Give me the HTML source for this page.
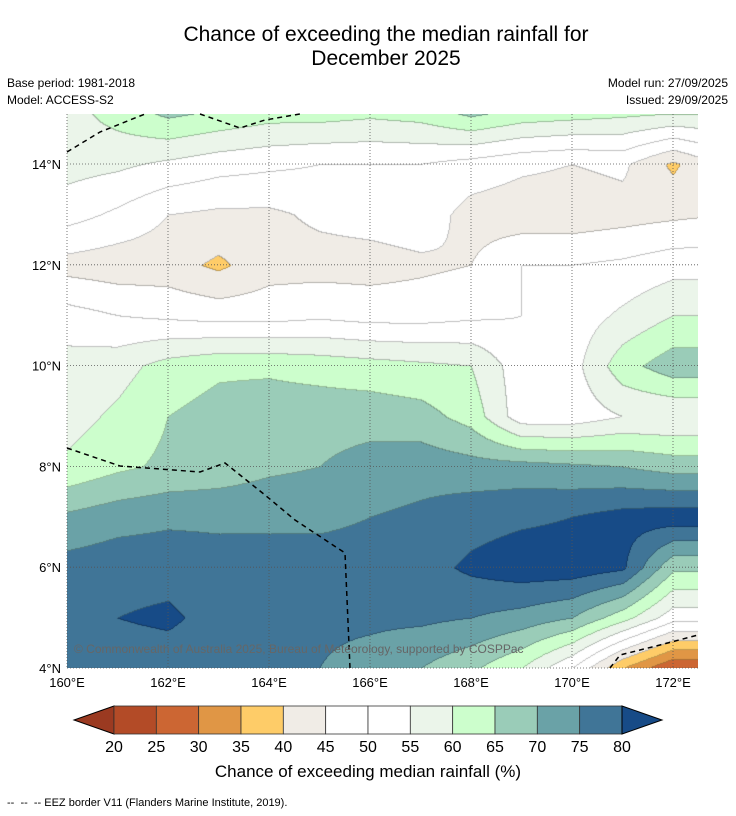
<!DOCTYPE html>
<html><head><meta charset="utf-8">
<style>
body{margin:0;background:#fff;width:736px;height:816px;position:relative;overflow:hidden;font-family:"Liberation Sans",sans-serif;color:#000}
.t{position:absolute;white-space:nowrap}
</style></head><body>
<div class="t" style="left:0;width:772px;text-align:center;top:23px;font-size:21px;line-height:24px">Chance of exceeding the median rainfall for<br>December 2025</div>
<div class="t" style="left:7px;top:76px;font-size:12px">Base period: 1981-2018</div>
<div class="t" style="left:7px;top:93px;font-size:12px">Model: ACCESS-S2</div>
<div class="t" style="right:8px;top:76px;font-size:12px">Model run: 27/09/2025</div>
<div class="t" style="right:8px;top:93px;font-size:12px">Issued: 29/09/2025</div>
<canvas id="map" width="631" height="554" style="position:absolute;left:67px;top:114px"></canvas>
<svg id="ov" width="736" height="816" style="position:absolute;left:0;top:0"></svg>
<div class="t" style="left:74px;top:642px;font-size:12px;color:#666">© Commonwealth of Australia 2025, Bureau of Meteorology, supported by COSPPac</div>
<div class="t" style="left:0;width:736px;text-align:center;top:762px;font-size:17px">Chance of exceeding median rainfall (%)</div>
<div class="t" style="left:7px;top:797px;font-size:11px">-- &nbsp;-- &nbsp;-- EEZ border V11 (Flanders Marine Institute, 2019).</div>
<script>
const lons=[160,161,162,163,164,165,166,167,168,169,170,171,172,173];
const lats=[15,14,13,12,11,10,9,8,7,6,5,4];
const grid=[
[58,62,66,64,62,62,61,62,66,63,62,61,60,60],
[57,56,54,52,51,50,50,50,48,46,45,46,39,46],
[52,49,45,44,44,46,47,48,43,42,42,43,44,45],
[43,42,42,39,43,43,43,44,45,50,50,51,53,53],
[52,50,49,48,48,49,48,48,49,50,52,56,60,60],
[57,58,62,64,64,63,62,61,60,52,53,63,68,68],
[58,61,65,67,68,68,68,67,63,52,52,55,55,55],
[61,64,66,67,69,70,72,73,72,72,71,70,68,68],
[71,73,74,74,74,74,75,76,78,79,80,82,83,83],
[77,78,78,77,77,77,77,78,81,83,83,81,66,66],
[77,80,81,78,77,76,76,76,75,73,70,62,52,52],
[76,77,77,76,76,75,73,70,66,60,50,35,25,25]];
const levels=[20,25,30,35,40,45,50,55,60,65,70,75,80];
const colors=["#9b3a21","#b34b27","#cc6633","#e09645","#fecc68","#f0ece6","#ffffff","#ffffff","#ebf5ea","#ccfecc","#9accb8","#6aa2a7","#407597","#174b87"];
const xTicks=[160,162,164,166,168,170,172];
const yTicks=[4,6,8,10,12,14];
const X0=67,Y0=668,PX=50.5,PY=50.4;
const lx=l=>X0+(l-160)*PX, ly=l=>Y0-(l-4)*PY;
function val(lon,lat){
  let i=(15-lat), j=(lon-160);
  i=Math.max(0,Math.min(10.999,i)); j=Math.max(0,Math.min(12.999,j));
  const i0=Math.floor(i),j0=Math.floor(j),fi=i-i0,fj=j-j0;
  return grid[i0][j0]*(1-fi)*(1-fj)+grid[i0][j0+1]*(1-fi)*fj+grid[i0+1][j0]*fi*(1-fj)+grid[i0+1][j0+1]*fi*fj;
}
function bin(v){let b=0;while(b<levels.length&&v>=levels[b])b++;return b;}
const hex=h=>[parseInt(h.slice(1,3),16),parseInt(h.slice(3,5),16),parseInt(h.slice(5,7),16)];
const cv=document.getElementById('map'),ctx=cv.getContext('2d');
const W=cv.width,H=cv.height,img=ctx.createImageData(W,H);
const bins=new Int16Array(W*H);
for(let y=0;y<H;y++)for(let x=0;x<W;x++){
  bins[y*W+x]=bin(val(160+x/PX,15-y/PY));
}
for(let y=0;y<H;y++)for(let x=0;x<W;x++){
  const b=bins[y*W+x];let c=hex(colors[b]);
  const edge=(x+1<W&&bins[y*W+x+1]!==b)||(y+1<H&&bins[(y+1)*W+x]!==b);
  if(edge){c=c.map(v=>v*0.75);}
  const k=(y*W+x)*4;img.data[k]=c[0];img.data[k+1]=c[1];img.data[k+2]=c[2];img.data[k+3]=255;
}
ctx.putImageData(img,0,0);
const NS="http://www.w3.org/2000/svg",ov=document.getElementById('ov');
function el(t,a,txt){const e=document.createElementNS(NS,t);for(const k in a)e.setAttribute(k,a[k]);if(txt!=null)e.textContent=txt;ov.appendChild(e);return e;}
xTicks.forEach(t=>{
  const g=el('line',{x1:lx(t),x2:lx(t),y1:114,y2:668,stroke:'#555','stroke-width':0.8,'stroke-dasharray':'1,2'});
  
  
  const s=el('text',{x:lx(t),y:687,'font-size':13,'text-anchor':'middle','font-family':'Liberation Sans'},t+'°E');
  
  
});
yTicks.forEach(t=>{
  const g=el('line',{x1:67,x2:698,y1:ly(t),y2:ly(t),stroke:'#555','stroke-width':0.8,'stroke-dasharray':'1,2'});
  
  
  const s=el('text',{x:61,y:ly(t)+5,'font-size':13,'text-anchor':'end','font-family':'Liberation Sans'},t+'°N');
  
  
});
const eez=[
"67,152 100,132 145,114","200,114 240,128 265,120 300,114",
"67,448 120,466 200,472 225,463 265,495 295,520 345,553 350,668",
"610,668 620,655 660,645 698,635"];
eez.forEach(p=>{const e=el('polyline',{points:p,fill:'none',stroke:'#000','stroke-width':1.5,'stroke-dasharray':'5,4'});

});
const cbX=114,cbW=508,cbY=706,cbH=28,seg=cbW/12;
const lt=el('polygon',{points:`${cbX},${cbY} 74,${cbY+cbH/2} ${cbX},${cbY+cbH}`,fill:colors[0],stroke:'#000','stroke-width':1});


for(let i=0;i<12;i++){
  const r=el('rect',{x:cbX+i*seg,y:cbY,width:seg,height:cbH,fill:colors[i+1],stroke:'#333','stroke-width':0.8});
  
  
}
const rt=el('polygon',{points:`${cbX+cbW},${cbY} 662,${cbY+cbH/2} ${cbX+cbW},${cbY+cbH}`,fill:colors[13],stroke:'#000','stroke-width':1});


levels.forEach((v,i)=>{const t=el('text',{x:cbX+i*seg,y:752,'font-size':16,'text-anchor':'middle','font-family':'Liberation Sans'},v);

});
</script>
</body></html>
